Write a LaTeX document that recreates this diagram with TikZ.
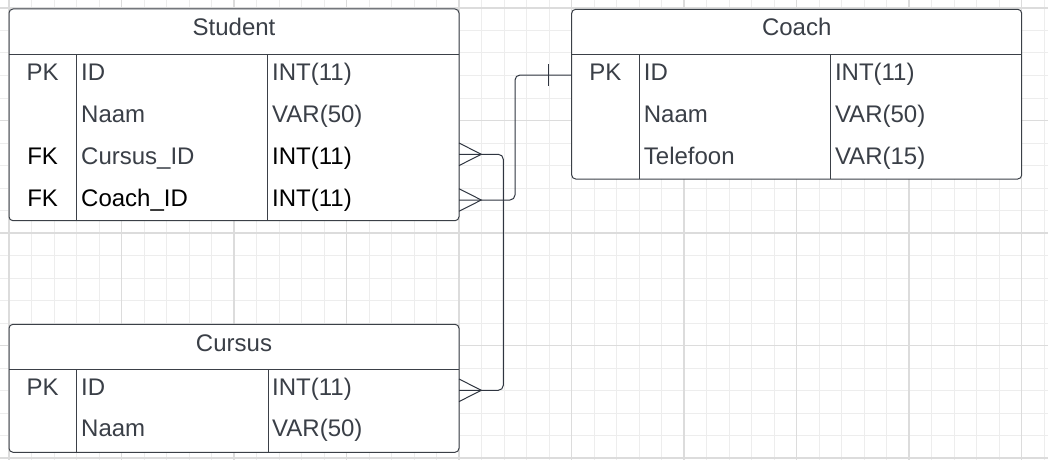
\documentclass[tikz,border=0pt]{standalone}
\usepackage{fontspec}
\setmainfont{Liberation Sans}
\usetikzlibrary{calc}
\definecolor{txt}{HTML}{3A3F47}
\definecolor{bord}{HTML}{3B4047}
\definecolor{connc}{HTML}{2F3540}
\definecolor{gminor}{HTML}{EDEDED}
\definecolor{gmajor}{HTML}{DCDCDC}
\tikzset{
  tablebox/.style={draw=bord, line width=1pt, fill=white, rounded corners=4pt,
    rectangle, inner sep=0pt, outer sep=0pt, anchor=north west},
  sepline/.style={draw=bord, line width=1pt},
  tfont/.style={font=\fontsize{24}{28}\selectfont, inner sep=0pt, text=txt},
  hdr/.style={tfont, anchor=base},
  keycell/.style={tfont, anchor=base},
  cell/.style={tfont, anchor=base west},
  dark/.style={text=black},
  link/.style={draw=connc, line width=1pt, rounded corners=5pt},
  crow/.style={draw=connc, line width=1pt},
  gridminor/.style={draw=gminor, line width=1pt},
  gridmajor/.style={draw=gmajor, line width=1.4pt},
}
\begin{document}
\begin{tikzpicture}[x=1pt, y=-1pt]
\useasboundingbox (0,0) rectangle (1048,460);
\fill[white] (0,0) rectangle (1048,460);
% grid
\foreach \i in {0,...,46} \draw[gridminor] ({9+22.5*\i},0) -- ({9+22.5*\i},460);
\foreach \j in {0,...,20} \draw[gridminor] (0,{8+22.5*\j}) -- (1048,{8+22.5*\j});
\foreach \i in {0,5,...,45} \draw[gridmajor] ({9+22.5*\i},0) -- ({9+22.5*\i},460);
\foreach \j in {0,5,...,20} \draw[gridmajor] (0,{8+22.5*\j}) -- (1048,{8+22.5*\j});

% ---------- Student ----------
\node[tablebox, minimum width=450pt, minimum height=211.7pt] (student) at (9,9) {};
\draw[sepline] (9,54.3) -- (459,54.3);
\draw[sepline] (76.3,54.3) -- (76.3,220.7);
\draw[sepline] (267.7,54.3) -- (267.7,220.7);
\node[hdr] (studentT) at (234,36) {Student};
\node[keycell] (s1k) at (42.6,80) {PK};
\node[cell] (s1n) at (81,80) {ID};
\node[cell] (s1t) at (272,80) {INT(11)};
\node[cell] (s2n) at (81,122) {Naam};
\node[cell] (s2t) at (272,122) {VAR(50)};
\node[keycell, dark] (s3k) at (42.6,164.5) {FK};
\node[cell] (s3n) at (81,164.5) {Cursus\_ID};
\node[cell, dark] (s3t) at (272,164.5) {INT(11)};
\node[keycell, dark] (s4k) at (42.6,206.5) {FK};
\node[cell, dark] (s4n) at (81,206.5) {Coach\_ID};
\node[cell, dark] (s4t) at (272,206.5) {INT(11)};

% ---------- Coach ----------
\node[tablebox, minimum width=450pt, minimum height=169.7pt] (coach) at (571.7,9.3) {};
\draw[sepline] (571.7,54.3) -- (1021.7,54.3);
\draw[sepline] (639,54.3) -- (639,179);
\draw[sepline] (830.3,54.3) -- (830.3,179);
\node[hdr] (coachT) at (796.7,36) {Coach};
\node[keycell] (c1k) at (605.3,80.5) {PK};
\node[cell] (c1n) at (643.7,80.5) {ID};
\node[cell] (c1t) at (834.8,80.5) {INT(11)};
\node[cell] (c2n) at (643.7,122) {Naam};
\node[cell] (c2t) at (834.8,122) {VAR(50)};
\node[cell] (c3n) at (643.7,164) {Telefoon};
\node[cell] (c3t) at (834.8,164) {VAR(15)};

% ---------- Cursus ----------
\node[tablebox, minimum width=450pt, minimum height=128pt] (cursus) at (9,324.3) {};
\draw[sepline] (9,369.7) -- (459,369.7);
\draw[sepline] (76.5,369.7) -- (76.5,452.3);
\draw[sepline] (268,369.7) -- (268,452.3);
\node[hdr] (cursusT) at (234,351) {Cursus};
\node[keycell] (u1k) at (42.6,395) {PK};
\node[cell] (u1n) at (81,395) {ID};
\node[cell] (u1t) at (272,395) {INT(11)};
\node[cell] (u2n) at (81,436.7) {Naam};
\node[cell] (u2t) at (272,436.7) {VAR(50)};

% ---------- connectors ----------
\coordinate (stuCur) at (student.east |- 0,154.3);
\coordinate (stuCoach) at (student.east |- 0,200);
\coordinate (curID) at (cursus.east |- 0,390.3);
\coordinate (coachID) at (coach.west |- 0,75);

\draw[link] (stuCur) -- ++(44.3,0) |- (curID);
\draw[link] (stuCoach) -- ++(56,0) |- (coachID);

% crow's feet (many)
\draw[crow] ($(stuCur)+(0,-11.3)$) -- ($(stuCur)+(22.3,0)$) -- ($(stuCur)+(0,11.3)$);
\draw[crow] ($(stuCoach)+(0,-11.3)$) -- ($(stuCoach)+(22.3,0)$) -- ($(stuCoach)+(0,11.3)$);
\draw[crow] ($(curID)+(0,-11.3)$) -- ($(curID)+(22.3,0)$) -- ($(curID)+(0,11.3)$);
% single bar (one)
\draw[crow] ($(coachID)+(-23.4,-11)$) -- ($(coachID)+(-23.4,11)$);
\end{tikzpicture}
\end{document}
